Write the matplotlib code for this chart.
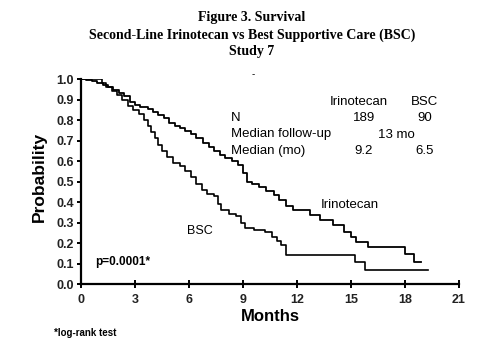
import matplotlib
matplotlib.use("Agg")
import matplotlib.pyplot as plt

# Kaplan-Meier style survival (months, probability)
irino_t = [0, 0.3, 0.6, 0.9, 1.2, 1.5, 1.8, 2.1, 2.4, 2.7, 3.0, 3.3, 3.7, 4.0, 4.3, 4.6,
           4.9, 5.2, 5.5, 5.8, 6.1, 6.4, 6.8, 7.1, 7.4, 7.7, 8.0, 8.4, 8.7, 9.0, 9.2,
           9.5, 9.9, 10.3, 10.7, 11.0, 11.4, 11.8, 12.2, 12.7, 13.3, 14.0, 14.6, 15.0,
           15.3, 15.95, 18.0, 18.5, 18.9]
irino_p = [1.0, 0.995, 0.99, 0.98, 0.97, 0.96, 0.945, 0.93, 0.915, 0.89, 0.875, 0.865,
           0.855, 0.84, 0.825, 0.81, 0.785, 0.77, 0.76, 0.745, 0.73, 0.71, 0.69, 0.67,
           0.65, 0.63, 0.615, 0.60, 0.58, 0.54, 0.50, 0.49, 0.475, 0.455, 0.435, 0.41,
           0.38, 0.36, 0.36, 0.337, 0.312, 0.288, 0.255, 0.231, 0.207, 0.179, 0.145,
           0.109, 0.109]

bsc_t = [0, 1.15, 1.4, 1.7, 2.0, 2.3, 2.6, 2.9, 3.2, 3.5, 3.7, 3.9, 4.1, 4.3, 4.5, 4.8,
         5.1, 5.5, 5.8, 6.1, 6.4, 6.7, 7.0, 7.4, 7.6, 7.8, 8.2, 8.6, 8.9, 9.1, 9.6, 10.2,
         10.6, 10.9, 11.1, 11.4, 15.2, 15.8, 19.3]
bsc_p = [1.0, 0.98, 0.96, 0.94, 0.92, 0.90, 0.87, 0.85, 0.83, 0.80, 0.77, 0.74, 0.71,
         0.68, 0.65, 0.62, 0.59, 0.575, 0.55, 0.52, 0.49, 0.46, 0.44, 0.43, 0.39, 0.36,
         0.34, 0.33, 0.30, 0.275, 0.265, 0.255, 0.23, 0.21, 0.19, 0.14, 0.107, 0.068,
         0.068]

x_ticks = [0, 3, 6, 9, 12, 15, 18, 21]
y_ticks = [0.0, 0.1, 0.2, 0.3, 0.4, 0.5, 0.6, 0.7, 0.8, 0.9, 1.0]

table_rows = ["N", "Median follow-up", "Median (mo)"]
irino_col = ["189", "", "9.2"]
bsc_col = ["90", "", "6.5"]

plt.rcParams["font.family"] = ["Liberation Sans", "DejaVu Sans"]

fig = plt.figure(figsize=(5.04, 3.54), dpi=100)
ax = fig.add_axes([0.1607, 0.1977, 0.75, 0.579])

ax.step(irino_t, irino_p, where="post", color="black", lw=1.3)
ax.step(bsc_t, bsc_p, where="post", color="black", lw=1.2)

ax.set_xlim(0, 21)
ax.set_ylim(0, 1.0)
ax.set_xticks(x_ticks)
ax.set_xticklabels([str(v) for v in x_ticks], fontweight="bold")
ax.set_yticks(y_ticks)
ax.set_yticklabels(["%.1f" % v for v in y_ticks], fontweight="bold")
ax.spines["top"].set_visible(False)
ax.spines["right"].set_visible(False)
ax.spines["left"].set_linewidth(1.6)
ax.spines["bottom"].set_linewidth(1.6)
ax.tick_params(axis="x", direction="inout", length=6, width=1.4, labelsize=9, pad=4,
               labelcolor="#222222")
ax.tick_params(axis="y", direction="out", length=3, width=1.4, labelsize=9, pad=2,
               labelcolor="#222222")
ax.set_xlabel("Months", fontsize=12, fontweight="bold", labelpad=2)
ax.set_ylabel("Probability", fontsize=12.5, fontweight="bold")
ax.yaxis.set_label_coords(-34 / 378, 0.52)

# title, serif bold
title_lines = ["Figure 3. Survival",
               "Second-Line Irinotecan vs Best Supportive Care (BSC)",
               "Study 7"]
for i, line in enumerate(title_lines):
    fig.text(0.5, 1 - (18 + 17 * i) / 354, line, ha="center", va="center",
             fontsize=10, fontweight="bold", family="Liberation Serif")

fig.text(253 / 504, 1 - 74 / 354, "-", ha="center", va="center", fontsize=7)

# summary table
def px(x, y):
    return x / 504, 1 - y / 354

fs = 9.5
fig.text(*px(359, 102), "Irinotecan", ha="center", va="center", fontsize=fs)
fig.text(*px(424, 102), "BSC", ha="center", va="center", fontsize=fs)
for i, row in enumerate(table_rows):
    y = 118 + 16.5 * i
    fig.text(*px(231, y), row, ha="left", va="center", fontsize=fs)
    fig.text(*px(364, y), irino_col[i], ha="center", va="center", fontsize=fs)
    fig.text(*px(425, y), bsc_col[i], ha="center", va="center", fontsize=fs)
fig.text(*px(396, 134.5), "13 mo", ha="center", va="center", fontsize=fs)

fig.text(*px(350, 205), "Irinotecan", ha="center", va="center", fontsize=fs)
fig.text(*px(200, 231), "BSC", ha="center", va="center", fontsize=9)
fig.text(*px(95, 262), "p=0.0001*", ha="left", va="center", fontsize=8.5, fontweight="bold")
fig.text(*px(54, 333), "*log-rank test", ha="left", va="center", fontsize=7, fontweight="bold")

fig.savefig("out.png", dpi=100)
